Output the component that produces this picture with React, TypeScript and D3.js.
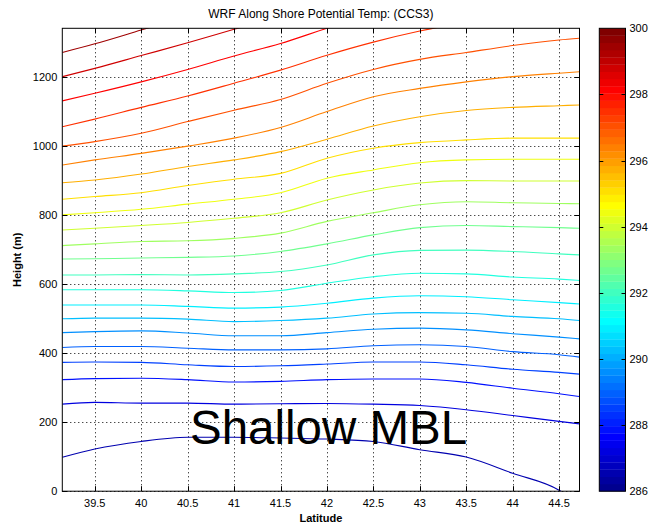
import * as d3 from "d3";
import { useEffect, useRef } from "react";

const latitudes = [39.15, 39.5, 40, 40.5, 41, 41.5, 42, 42.5, 43, 43.5, 44, 44.5, 44.72];

// contour levels (K), bottom to top
const levels = [
  286.61, 287.22, 287.83, 288.43, 289.04, 289.65, 290.26, 290.87, 291.48, 292.09, 292.7,
  293.3, 293.91, 294.52, 295.13, 295.74, 296.35, 296.96, 297.57, 298.17, 298.78, 299.39,
];

// height (m) of each isotherm at each latitude column, null = above the plot
const isotherms: (number | null)[][] = [
  [98, 122, 144, 156, 156, 154, 151, 144, 120, 99, 52, 3, -38],
  [252, 257, 255, 255, 252, 253, 254, 252, 248, 236, 219, 202, 195],
  [323, 326, 327, 323, 316, 318, 323, 325, 325, 315, 298, 282, 274],
  [373, 374, 373, 366, 361, 363, 368, 374, 374, 366, 353, 344, 339],
  [416, 419, 419, 414, 409, 409, 412, 421, 424, 419, 404, 395, 388],
  [459, 462, 464, 458, 450, 450, 459, 469, 472, 467, 456, 446, 441],
  [499, 501, 501, 498, 491, 494, 501, 513, 517, 515, 506, 499, 494],
  [539, 539, 539, 535, 530, 533, 544, 559, 566, 563, 554, 546, 542],
  [583, 583, 583, 580, 575, 581, 602, 621, 631, 629, 620, 614, 610],
  [626, 626, 627, 626, 629, 636, 655, 684, 697, 698, 694, 687, 684],
  [672, 673, 675, 677, 681, 694, 716, 742, 763, 769, 766, 763, 761],
  [711, 716, 723, 725, 732, 747, 781, 806, 829, 838, 835, 833, 832],
  [756, 761, 769, 778, 790, 806, 843, 872, 892, 899, 898, 898, 898],
  [800, 806, 816, 831, 845, 864, 906, 930, 951, 959, 961, 961, 961],
  [845, 853, 864, 885, 903, 920, 964, 993, 1009, 1017, 1022, 1022, 1022],
  [893, 901, 918, 940, 959, 983, 1019, 1057, 1084, 1102, 1111, 1116, 1118],
  [944, 959, 978, 999, 1022, 1053, 1099, 1142, 1166, 1185, 1200, 1210, 1214],
  [999, 1012, 1036, 1070, 1103, 1134, 1181, 1221, 1250, 1270, 1290, 1306, 1311],
  [1055, 1077, 1111, 1144, 1181, 1219, 1262, 1300, 1332, 1358, null, null, null],
  [1130, 1152, 1185, 1221, 1260, 1296, 1340, 1380, null, null, null, null, null],
  [1200, 1224, 1261, 1298, 1337, 1375, null, null, null, null, null, null, null],
  [1270, 1295, 1335, 1375, null, null, null, null, null, null, null, null, null],
];

const xTicks = [39.5, 40, 40.5, 41, 41.5, 42, 42.5, 43, 43.5, 44, 44.5];
const yTicks = [0, 200, 400, 600, 800, 1000, 1200];
const cbarTicks = [286, 288, 290, 292, 294, 296, 298, 300];

// matlab jet(64)
function jet(i: number) {
  const t = (i + 1) / 64;
  const c = (v: number) => Math.round(255 * Math.max(0, Math.min(1, 1.5 - Math.abs(v))));
  return `rgb(${c(4 * t - 3)},${c(4 * t - 2)},${c(4 * t - 1)})`;
}

export default function App() {
  const svgRef = useRef<SVGSVGElement>(null);

  useEffect(() => {
    if (!svgRef.current) return;
    const svg = d3.select(svgRef.current);
    svg.selectAll("*").remove();

    const width = 651;
    const height = 527;
    const font = "'Liberation Sans', Arial, Helvetica, sans-serif";
    const plot = { left: 62.3, right: 579.5, top: 28.3, bottom: 491.2 };
    const cbar = { left: 599.3, right: 625.5 };
    const cmin = 286;
    const cmax = 300;

    svg.attr("width", width).attr("height", height);
    svg.append("rect").attr("width", width).attr("height", height).attr("fill", "#fff");

    const x = d3.scaleLinear().domain([39.15, 44.72]).range([plot.left, plot.right]);
    const y = d3.scaleLinear().domain([0, 1340]).range([plot.bottom, plot.top]);

    svg
      .append("clipPath")
      .attr("id", "plotclip")
      .append("rect")
      .attr("x", plot.left)
      .attr("y", plot.top)
      .attr("width", plot.right - plot.left)
      .attr("height", plot.bottom - plot.top);

    // dotted grid
    const grid = svg.append("g").attr("stroke", "#000").attr("stroke-width", 1).attr("stroke-dasharray", "1,3");
    xTicks.forEach((t) => {
      grid
        .append("line")
        .attr("x1", Math.round(x(t)) + 0.5)
        .attr("x2", Math.round(x(t)) + 0.5)
        .attr("y1", plot.top)
        .attr("y2", plot.bottom);
    });
    yTicks.forEach((t) => {
      grid
        .append("line")
        .attr("y1", Math.round(y(t)) + 0.5)
        .attr("y2", Math.round(y(t)) + 0.5)
        .attr("x1", plot.left)
        .attr("x2", plot.right);
    });

    // isotherms
    const colorIndex = (v: number) =>
      Math.max(0, Math.min(63, Math.floor(((v - cmin) / (cmax - cmin)) * 64)));
    const line = d3
      .line<number | null>()
      .defined((d) => d !== null)
      .x((_, i) => x(latitudes[i]))
      .y((d) => y(d as number))
      .curve(d3.curveMonotoneX);

    const lines = svg.append("g").attr("clip-path", "url(#plotclip)");
    isotherms.forEach((h, k) => {
      lines
        .append("path")
        .attr("d", line(h))
        .attr("fill", "none")
        .attr("stroke", jet(colorIndex(levels[k])))
        .attr("stroke-width", 1.1);
    });

    // axes box and ticks
    const axes = svg.append("g").attr("stroke", "#000").attr("stroke-width", 1);
    axes
      .append("rect")
      .attr("x", plot.left)
      .attr("y", plot.top)
      .attr("width", plot.right - plot.left)
      .attr("height", plot.bottom - plot.top)
      .attr("fill", "none");
    const tl = 5;
    xTicks.forEach((t) => {
      const px = Math.round(x(t)) + 0.5;
      axes.append("line").attr("x1", px).attr("x2", px).attr("y1", plot.bottom).attr("y2", plot.bottom - tl);
      axes.append("line").attr("x1", px).attr("x2", px).attr("y1", plot.top).attr("y2", plot.top + tl);
    });
    yTicks.forEach((t) => {
      const py = Math.round(y(t)) + 0.5;
      axes.append("line").attr("y1", py).attr("y2", py).attr("x1", plot.left).attr("x2", plot.left + tl);
      axes.append("line").attr("y1", py).attr("y2", py).attr("x1", plot.right).attr("x2", plot.right - tl);
    });

    const labels = svg.append("g").attr("font-family", font).attr("font-size", 11).attr("fill", "#000");
    xTicks.forEach((t) => {
      labels
        .append("text")
        .attr("x", x(t))
        .attr("y", plot.bottom + 16)
        .attr("text-anchor", "middle")
        .text(String(t));
    });
    yTicks.forEach((t) => {
      labels
        .append("text")
        .attr("x", plot.left - 5)
        .attr("y", y(t) + 4)
        .attr("text-anchor", "end")
        .text(String(t));
    });

    // titles
    svg
      .append("text")
      .attr("x", (plot.left + plot.right) / 2)
      .attr("y", 18)
      .attr("text-anchor", "middle")
      .attr("font-family", font)
      .attr("font-size", 12)
      .text("WRF Along Shore Potential Temp: (CCS3)");
    svg
      .append("text")
      .attr("x", (plot.left + plot.right) / 2)
      .attr("y", 522)
      .attr("text-anchor", "middle")
      .attr("font-family", font)
      .attr("font-size", 11)
      .attr("font-weight", "bold")
      .text("Latitude");
    svg
      .append("text")
      .attr("transform", `translate(21, ${(plot.top + plot.bottom) / 2}) rotate(-90)`)
      .attr("text-anchor", "middle")
      .attr("font-family", font)
      .attr("font-size", 11)
      .attr("font-weight", "bold")
      .text("Height (m)");

    svg
      .append("text")
      .attr("x", 190)
      .attr("y", 444)
      .attr("font-family", font)
      .attr("font-size", 47.5)
      .attr("fill", "#000")
      .text("Shallow MBL");

    // colorbar
    const cy = d3.scaleLinear().domain([cmin, cmax]).range([plot.bottom, plot.top]);
    const step = (cmax - cmin) / 64;
    const cb = svg.append("g");
    d3.range(64).forEach((i) => {
      cb.append("rect")
        .attr("x", cbar.left)
        .attr("width", cbar.right - cbar.left)
        .attr("y", cy(cmin + (i + 1) * step))
        .attr("height", cy(cmin + i * step) - cy(cmin + (i + 1) * step) + 0.3)
        .attr("fill", jet(i));
    });
    cb.append("rect")
      .attr("x", cbar.left)
      .attr("y", plot.top)
      .attr("width", cbar.right - cbar.left)
      .attr("height", plot.bottom - plot.top)
      .attr("fill", "none")
      .attr("stroke", "#000");
    cbarTicks.forEach((t) => {
      const py = Math.round(cy(t)) + 0.5;
      if (t !== cmin && t !== cmax) {
        cb.append("line").attr("x1", cbar.left).attr("x2", cbar.left + 4).attr("y1", py).attr("y2", py).attr("stroke", "#000");
        cb.append("line").attr("x1", cbar.right).attr("x2", cbar.right - 4).attr("y1", py).attr("y2", py).attr("stroke", "#000");
      }
      cb.append("text")
        .attr("x", cbar.right + 4)
        .attr("y", cy(t) + 4)
        .attr("font-family", font)
        .attr("font-size", 11)
        .text(String(t));
    });
  }, []);

  return <svg ref={svgRef} style={{ position: "absolute", left: 0, top: 0 }}></svg>;
}
